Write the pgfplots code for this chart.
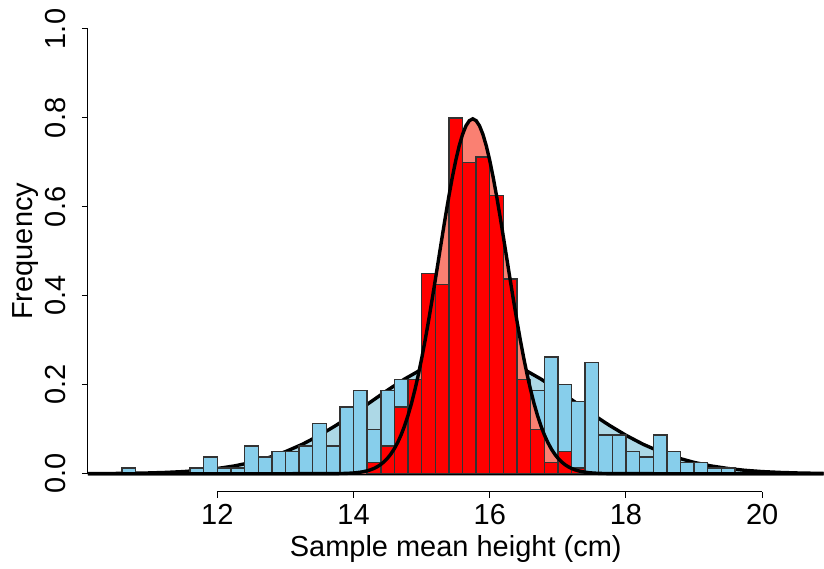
\documentclass[border=0pt]{standalone}
\usepackage{fontspec}
\setmainfont{Liberation Sans}
\usepackage{pgfplots}
\pgfplotsset{compat=1.18}
\definecolor{skyblue}{HTML}{87CEEB}
\definecolor{lightblue}{HTML}{ADD8E6}
\definecolor{salmon}{HTML}{FA8072}
\definecolor{rred}{HTML}{FF0000}
\newcommand{\lblfont}{\fontsize{14.5}{17}\selectfont}
\begin{document}
\begin{tikzpicture}
\begin{axis}[
  name=ax,
  scale only axis, width=368pt, height=240.3pt,
  xmin=10.1, xmax=20.9, ymin=-0.04, ymax=1.04,
  axis lines=left, axis line style={draw=none},
  tick align=outside, major tick length=3pt,
  every tick/.style={black, line width=0.5pt},
  xtick={12,14,16,18,20}, xticklabels={12,14,16,18,20},
  ytick={0,0.2,0.4,0.6,0.8,1.0}, yticklabels={0.0,0.2,0.4,0.6,0.8,1.0},
  minor tick num=0,
  xticklabel style={font=\lblfont, anchor=base, yshift=-13.3pt},
  yticklabel style={font=\lblfont, xshift=-8.0pt, rotate=90, anchor=base},
  every axis x label/.style={at={(axis description cs:0.5,0)}, yshift=-32.3pt, anchor=base, font=\lblfont},
  every axis y label/.style={at={(axis description cs:0,0.5)}, xshift=-27.5pt, rotate=90, anchor=base, font=\lblfont},
  xlabel={Sample mean height (cm)},
  ylabel={Frequency},
  after end axis/.code={
    \draw[line width=0.5pt] (axis cs:12,-0.04) -- (axis cs:20,-0.04);
    \draw[line width=0.5pt] (axis cs:10.1,0) -- (axis cs:10.1,1);
  },
]
% blue normal curve, filled
\addplot[fill=lightblue, draw=black, line width=1.7pt] coordinates {
(10.00,0.00017) (10.25,0.00032) (10.50,0.00058) (10.75,0.00103) (11.00,0.00177)
(11.25,0.00295) (11.50,0.00480) (11.75,0.00760) (12.00,0.01169) (12.25,0.01748)
(12.50,0.02544) (12.75,0.03599) (13.00,0.04954) (13.25,0.06632) (13.50,0.08634)
(13.75,0.10934) (14.00,0.13467) (14.25,0.16131) (14.50,0.18794) (14.75,0.21296)
(15.00,0.23471) (15.25,0.25159) (15.50,0.26229) (15.75,0.26596) (16.00,0.26229)
(16.25,0.25159) (16.50,0.23471) (16.75,0.21296) (17.00,0.18794) (17.25,0.16131)
(17.50,0.13467) (17.75,0.10934) (18.00,0.08634) (18.25,0.06632) (18.50,0.04954)
(18.75,0.03599) (19.00,0.02544) (19.25,0.01748) (19.50,0.01169) (19.75,0.00760)
(20.00,0.00480) (20.25,0.00295) (20.50,0.00177) (20.75,0.00103) (21.00,0.00058)
} \closedcycle;
% blue histogram
\addplot[ybar, bar width=0.2, bar shift=0pt, fill=skyblue, draw=black!80, line width=0.7pt] coordinates {
(10.7,0.0125) (11.7,0.0125) (11.9,0.0375) (12.1,0.0125) (12.3,0.0125)
(12.5,0.0625) (12.7,0.0375) (12.9,0.05) (13.1,0.05) (13.3,0.0625)
(13.5,0.1125) (13.7,0.0625) (13.9,0.15) (14.1,0.1875) (14.3,0.1)
(14.5,0.1875) (14.7,0.2125) (14.9,0.2) (15.1,0.225) (15.3,0.2375)
(15.5,0.25) (15.7,0.2625) (15.9,0.25) (16.1,0.25) (16.3,0.225)
(16.5,0.2) (16.7,0.1875) (16.9,0.2625) (17.1,0.2) (17.3,0.1625)
(17.5,0.25) (17.7,0.0875) (17.9,0.0875) (18.1,0.05) (18.3,0.0375)
(18.5,0.0875) (18.7,0.05) (18.9,0.025) (19.1,0.025) (19.3,0.0125)
(19.5,0.0125)
};
% red normal curve fill
\addplot[fill=salmon, draw=none] coordinates {
(13.00,0) (13.75,0.00027) (13.80,0.00040) (13.85,0.00058) (13.90,0.00085) (13.95,0.00122)
(14.00,0.00175) (14.05,0.00246) (14.10,0.00345) (14.15,0.00477) (14.20,0.00653)
(14.25,0.00886) (14.30,0.01191) (14.35,0.01583) (14.40,0.02084) (14.45,0.02717)
(14.50,0.03506) (14.55,0.04479) (14.60,0.05665) (14.65,0.07095) (14.70,0.08798)
(14.75,0.10798) (14.80,0.13123) (14.85,0.15790) (14.90,0.18810) (14.95,0.22184)
(15.00,0.25904) (15.05,0.29945) (15.10,0.34274) (15.15,0.38837) (15.20,0.43570)
(15.25,0.48394) (15.30,0.53216) (15.35,0.57938) (15.40,0.62451) (15.45,0.66645)
(15.50,0.70413) (15.55,0.73654) (15.60,0.76277) (15.65,0.78208) (15.70,0.79390)
(15.75,0.79788) (15.80,0.79390) (15.85,0.78208) (15.90,0.76277) (15.95,0.73654)
(16.00,0.70413) (16.05,0.66645) (16.10,0.62451) (16.15,0.57938) (16.20,0.53216)
(16.25,0.48394) (16.30,0.43570) (16.35,0.38837) (16.40,0.34274) (16.45,0.29945)
(16.50,0.25904) (16.55,0.22184) (16.60,0.18810) (16.65,0.15790) (16.70,0.13123)
(16.75,0.10798) (16.80,0.08798) (16.85,0.07095) (16.90,0.05665) (16.95,0.04479)
(17.00,0.03506) (17.05,0.02717) (17.10,0.02084) (17.15,0.01583) (17.20,0.01191)
(17.25,0.00886) (17.30,0.00653) (17.35,0.00477) (17.40,0.00345) (17.45,0.00246)
(17.50,0.00175) (17.55,0.00122) (17.60,0.00085) (17.65,0.00058) (17.70,0.00040)
(17.75,0.00027) (18.50,0)
} \closedcycle;
% red histogram
\addplot[ybar, bar width=0.2, bar shift=0pt, fill=rred, draw=black!80, line width=0.7pt] coordinates {
(14.3,0.025) (14.5,0.0625) (14.7,0.15) (14.9,0.2125) (15.1,0.45)
(15.3,0.425) (15.5,0.8) (15.7,0.7) (15.9,0.7125) (16.1,0.625)
(16.3,0.4375) (16.5,0.2125) (16.7,0.1) (16.9,0.025) (17.1,0.05)
(17.3,0.0125)
};
% red normal curve line
\addplot[black, line width=1.7pt] coordinates {
(10.00,0) (13.00,0) (13.75,0.00027) (13.80,0.00040) (13.85,0.00058) (13.90,0.00085) (13.95,0.00122)
(14.00,0.00175) (14.05,0.00246) (14.10,0.00345) (14.15,0.00477) (14.20,0.00653)
(14.25,0.00886) (14.30,0.01191) (14.35,0.01583) (14.40,0.02084) (14.45,0.02717)
(14.50,0.03506) (14.55,0.04479) (14.60,0.05665) (14.65,0.07095) (14.70,0.08798)
(14.75,0.10798) (14.80,0.13123) (14.85,0.15790) (14.90,0.18810) (14.95,0.22184)
(15.00,0.25904) (15.05,0.29945) (15.10,0.34274) (15.15,0.38837) (15.20,0.43570)
(15.25,0.48394) (15.30,0.53216) (15.35,0.57938) (15.40,0.62451) (15.45,0.66645)
(15.50,0.70413) (15.55,0.73654) (15.60,0.76277) (15.65,0.78208) (15.70,0.79390)
(15.75,0.79788) (15.80,0.79390) (15.85,0.78208) (15.90,0.76277) (15.95,0.73654)
(16.00,0.70413) (16.05,0.66645) (16.10,0.62451) (16.15,0.57938) (16.20,0.53216)
(16.25,0.48394) (16.30,0.43570) (16.35,0.38837) (16.40,0.34274) (16.45,0.29945)
(16.50,0.25904) (16.55,0.22184) (16.60,0.18810) (16.65,0.15790) (16.70,0.13123)
(16.75,0.10798) (16.80,0.08798) (16.85,0.07095) (16.90,0.05665) (16.95,0.04479)
(17.00,0.03506) (17.05,0.02717) (17.10,0.02084) (17.15,0.01583) (17.20,0.01191)
(17.25,0.00886) (17.30,0.00653) (17.35,0.00477) (17.40,0.00345) (17.45,0.00246)
(17.50,0.00175) (17.55,0.00122) (17.60,0.00085) (17.65,0.00058) (17.70,0.00040)
(17.75,0.00027) (18.50,0) (21.00,0)
};
\end{axis}
\path (ax.south west) ++(-44pt,-36.6pt);
\path (ax.north east) ++(0pt,5.6pt);
\end{tikzpicture}
\end{document}
